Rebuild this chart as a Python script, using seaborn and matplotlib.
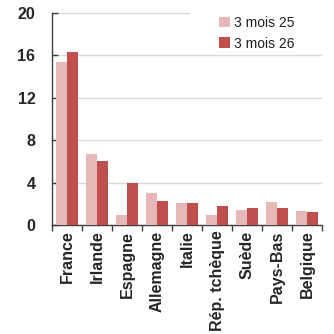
import numpy as np
import pandas as pd
import matplotlib
matplotlib.use("Agg")
import matplotlib.pyplot as plt
import seaborn as sns
from matplotlib import font_manager
from matplotlib.ticker import FixedLocator

# data
countries = ["France", "Irlande", "Espagne", "Allemagne", "Italie",
             "Rép. tchèque", "Suède", "Pays-Bas", "Belgique"]
mois_25 = [15.4, 6.7, 1.0, 3.0, 2.1, 0.95, 1.4, 2.2, 1.3]
mois_26 = [16.3, 6.0, 4.0, 2.3, 2.1, 1.8, 1.6, 1.6, 1.2]
series = ["3 mois 25", "3 mois 26"]
colors = ["#E6B9B8", "#C0504D"]
yticks = [0, 4, 8, 12, 16, 20]

df = pd.DataFrame({
    "pays": countries * 2,
    "valeur": mois_25 + mois_26,
    "serie": [series[0]] * len(countries) + [series[1]] * len(countries),
})

sns.set_style("white")
plt.rcParams["font.family"] = ["Liberation Sans", "DejaVu Sans"]

# condensed bold face for tick labels if available
names = {f.name for f in font_manager.fontManager.ttflist}
if "Liberation Sans Narrow" in names:
    tick_font = dict(family="Liberation Sans Narrow", size=13.5, weight="bold")
else:
    tick_font = dict(family="Liberation Sans", size=11.5, weight="bold")

fig = plt.figure(figsize=(3.34, 3.34), dpi=100)
ax = fig.add_axes([0.156, 0.326, 0.808, 0.635])

sns.barplot(data=df, x="pays", y="valeur", hue="serie", palette=colors,
            width=0.72, gap=0, saturation=1, errorbar=None, ax=ax,
            linewidth=0, zorder=3)

ax.set_xlim(-0.5, len(countries) - 0.5)
ax.set_ylim(0, 20)
ax.set_yticks(yticks)
ax.set_yticklabels([str(t) for t in yticks], fontdict=tick_font)
ax.set_xticks(range(len(countries)))
ax.set_xticklabels(countries, rotation=90, fontdict=tick_font)
ax.set_xlabel("")
ax.set_ylabel("")

# horizontal grid, top line cut short by the legend
ax.yaxis.grid(True, color="#D9D9D9", linewidth=1, zorder=0)
ax.set_axisbelow(True)
ax.get_ygridlines()[-1].set_visible(False)
ax.plot([-0.5, 4.05], [20, 20], color="#D9D9D9", linewidth=1, zorder=0,
        clip_on=False)

for s in ["top", "right"]:
    ax.spines[s].set_visible(False)
for s in ["left", "bottom"]:
    ax.spines[s].set_color("#404040")
    ax.spines[s].set_linewidth(1)

ax.tick_params(axis="y", direction="in", length=4, color="#404040",
               width=1, pad=12, left=True)
ax.tick_params(axis="x", which="major", length=0, pad=4)
ax.xaxis.set_minor_locator(FixedLocator(np.arange(-0.5, len(countries), 1)))
ax.tick_params(axis="x", which="minor", direction="out", length=4,
               color="#404040", width=1, bottom=True)

leg = ax.legend(loc="upper right", bbox_to_anchor=(0.94, 1.04), fontsize=10,
                frameon=True, fancybox=False, handlelength=0.8,
                handleheight=0.8, handletextpad=0.3, labelspacing=0.5,
                borderpad=0.3)
leg.get_frame().set_facecolor("white")
leg.get_frame().set_edgecolor("none")
leg.set_zorder(5)
for t in leg.get_texts():
    t.set_color("#202020")

fig.savefig("out.png", dpi=100)
